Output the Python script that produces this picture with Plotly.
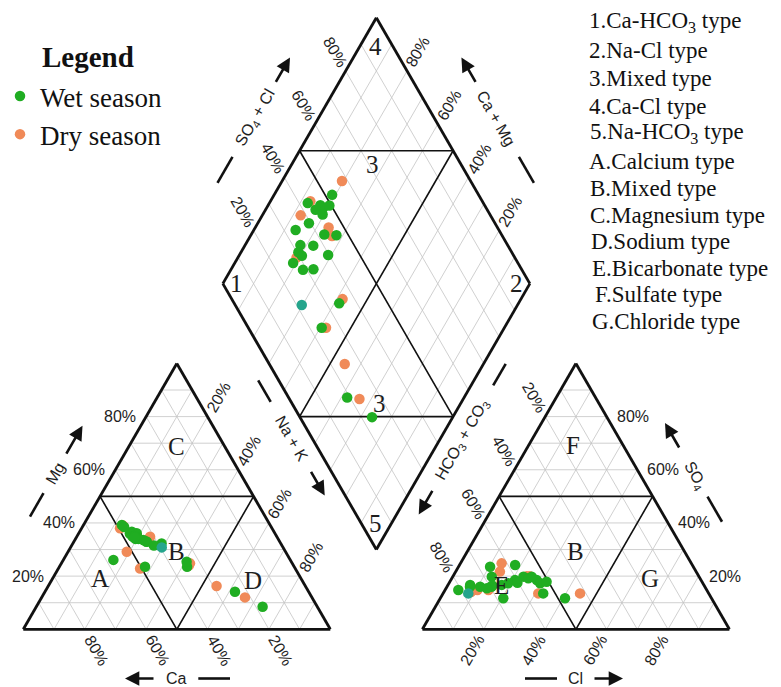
import numpy as np
import plotly.graph_objects as go

# ---------------- sample compositions (% of meq/L) ----------------
# Wet season: cations (Mg, Na+K; Ca = remainder) and anions (SO4, Cl; HCO3+CO3 = remainder)
wet_mg = [36.1, 39.2, 36.7, 34.8, 26.1, 34.0, 34.5, 36.0, 38.5, 32.9,
          23.5, 33.6, 35.0, 35.0, 34.0, 32.3, 34.5, 33.0, 31.5, 23.5,
          25.4, 14.1, 8.5]
wet_nak = [18.9, 12.5, 17.0, 18.4, 16.3, 19.5, 20.0, 16.7, 13.6, 23.8,
           27.9, 22.3, 18.0, 18.7, 20.5, 28.9, 19.0, 23.5, 26.8, 41.6,
           40.5, 61.9, 73.7]
wet_so4 = [11.7, 19.8, 18.5, 17.3, 19.2, 19.8, 17.9, 18.5, 23.5, 24.2,
           13.5, 17.3, 19.8, 16.0, 16.5, 17.5, 16.0, 15.4, 11.7, 16.7,
           16.7, 14.8, 16.0]
wet_cl = [40.6, 23.0, 28.0, 29.7, 24.9, 25.7, 31.5, 20.9, 10.3, 18.1,
          32.6, 19.3, 12.7, 14.5, 14.5, 22.2, 10.8, 13.3, 20.5, 17.5,
          7.2, 4.3, 7.5]

# Dry season
dry_mg = [35.0, 38.0, 22.9, 24.8, 24.0, 16.3, 12.0, 29.2, 34.8, 39.0]
dry_nak = [19.5, 12.5, 26.6, 41.9, 41.9, 54.8, 66.2, 19.1, 23.9, 13.0]
dry_so4 = [13.5, 24.8, 13.5, 21.7, 14.8, 15.0, 14.0, 14.8, 20.0, 20.0]
dry_cl = [44.6, 13.4, 31.0, 14.4, 10.5, 9.6, 8.8, 14.1, 25.0, 24.0]

# Sample recorded identically in both seasons
both_mg = [30.8]
both_nak = [29.7]
both_so4 = [13.5]
both_cl = [8.2]

tick_vals = [20, 40, 60, 80]

type_notes = [
    "1.Ca-HCO<sub>3</sub> type", "2.Na-Cl type", "3.Mixed type", "4.Ca-Cl type",
    "5.Na-HCO<sub>3</sub> type", "A.Calcium type", "B.Mixed type",
    "C.Magnesium type", "D.Sodium type", "E.Bicarbonate type",
    "F.Sulfate type", "G.Chloride type",
]

# ---------------- geometry ----------------
H = np.sqrt(3) / 2          # triangle height for unit side
GAP = 0.3                   # gap between the two triangles
AX0 = 1 + GAP               # x origin of anion triangle
BX, BY = 1 + GAP / 2, GAP / 2 * np.sqrt(3)   # bottom vertex of the diamond

W, HGT = 781, 687
S = 307.0                   # pixels per unit side
X0, Y0 = 23.3, 629.3        # pixel position of the cation triangle's lower-left corner


def P(px, py):
    """pixel position -> data coordinates"""
    return (px - X0) / S, (Y0 - py) / S


def cat_xy(mg, nak):
    return nak + mg / 2, mg * H


def an_xy(so4, cl):
    return AX0 + cl + so4 / 2, so4 * H


def dia_xy(c, s):
    return BX + 0.5 * (s - c), BY + H * (s + c)


def project(mg, nak, so4, cl):
    mg, nak, so4, cl = [np.asarray(v, float) / 100 for v in (mg, nak, so4, cl)]
    x1, y1 = cat_xy(mg, nak)
    x2, y2 = an_xy(so4, cl)
    x3, y3 = dia_xy(1 - nak, so4 + cl)
    return np.concatenate([x1, x2, x3]), np.concatenate([y1, y2, y3])


def seg_trace(segs, color, width):
    xs, ys = [], []
    for (a, b) in segs:
        xs += [a[0], b[0], None]
        ys += [a[1], b[1], None]
    return go.Scatter(x=xs, y=ys, mode="lines", line=dict(color=color, width=width),
                      hoverinfo="skip", showlegend=False)


grid, zones, frames = [], [], []
for ox in (0.0, AX0):
    for k in range(1, 10):
        f = k / 10
        grid.append(((ox + f / 2, f * H), (ox + 1 - f / 2, f * H)))
        grid.append(((ox + f, 0), (ox + f + (1 - f) / 2, (1 - f) * H)))
        grid.append(((ox + 1 - f, 0), (ox + (1 - f) / 2, (1 - f) * H)))
    zones.append(((ox + 0.25, 0.5 * H), (ox + 0.75, 0.5 * H)))
    zones.append(((ox + 0.5, 0), (ox + 0.25, 0.5 * H)))
    zones.append(((ox + 0.5, 0), (ox + 0.75, 0.5 * H)))
    frames.append(((ox, 0), (ox + 1, 0)))
    frames.append(((ox + 1, 0), (ox + 0.5, H)))
    frames.append(((ox + 0.5, H), (ox, 0)))

for k in range(1, 10):
    f = k / 10
    grid.append((dia_xy(0, f), dia_xy(1, f)))
    grid.append((dia_xy(f, 0), dia_xy(f, 1)))
zones.append((dia_xy(0, 0.5), dia_xy(1, 0.5)))
zones.append((dia_xy(0.5, 0), dia_xy(0.5, 1)))
zones.append((dia_xy(0.5, 0), dia_xy(0, 0.5)))
zones.append((dia_xy(1, 0.5), dia_xy(0.5, 1)))
corners = [dia_xy(0, 0), dia_xy(1, 0), dia_xy(1, 1), dia_xy(0, 1), dia_xy(0, 0)]
for a, b in zip(corners[:-1], corners[1:]):
    frames.append((a, b))

fig = go.Figure()
fig.add_trace(seg_trace(grid, "#c4c4c4", 0.8))
fig.add_trace(seg_trace(zones, "#111111", 1.6))
fig.add_trace(seg_trace(frames, "#111111", 2.8))

GREEN, ORANGE, TEAL = "#20ad22", "#f08a58", "#25a58c"
mk = dict(size=10.5, line=dict(width=0))
x, y = project(dry_mg, dry_nak, dry_so4, dry_cl)
fig.add_trace(go.Scatter(x=x, y=y, mode="markers", name="Dry season", legendgroup="dry",
                         legendrank=2, marker=dict(color=ORANGE, **mk)))
x, y = project(wet_mg, wet_nak, wet_so4, wet_cl)
fig.add_trace(go.Scatter(x=x, y=y, mode="markers", name="Wet season", legendgroup="wet",
                         legendrank=1, marker=dict(color=GREEN, **mk)))
x, y = project(both_mg, both_nak, both_so4, both_cl)
fig.add_trace(go.Scatter(x=x, y=y, mode="markers", name="Both seasons", showlegend=False,
                         marker=dict(color=TEAL, **mk)))

ann = []
SANS = "Liberation Sans"
SERIF = "Liberation Serif"
TXT = "#1e1e1e"


def label(xy, text, angle=0, size=16, family=SANS, xanchor="center", **kw):
    ann.append(dict(x=xy[0], y=xy[1], text=text, showarrow=False, textangle=angle,
                    xanchor=xanchor, yanchor="middle",
                    font=dict(family=family, size=size, color=TXT), **kw))


def off(pt, ux, uy, d):
    """shift a data point by d pixels along a unit direction given in data axes"""
    return pt[0] + ux * d / S, pt[1] + uy * d / S


# percentage ticks
for v in tick_vals:
    f = v / 100
    # cation triangle
    label(off((0 + f / 2, f * H), -1, 0, 8), f"{v}%", xanchor="right")           # Mg
    label(off((0.5 + f / 2, (1 - f) * H), 0.5, H, 22), f"{v}%", angle=-60)         # Na+K
    label(off((1 - f, 0), 0.5, -H, 24), f"{v}%", angle=60)                         # Ca
    # anion triangle
    label(off((AX0 + 1 - f / 2, f * H), 1, 0, 8), f"{v}%", xanchor="left")        # SO4
    label(off((AX0 + f, 0), -0.5, -H, 24), f"{v}%", angle=-60)                    # Cl
    label(off((AX0 + f / 2, f * H), -0.5, H, 22), f"{100 - v}%", angle=60)        # HCO3+CO3
    # diamond
    label(off(dia_xy(1, f), -0.5, H, 22), f"{v}%", angle=60)                       # SO4+Cl
    label(off(dia_xy(f, 1), 0.5, H, 22), f"{v}%", angle=-60)                       # Ca+Mg

# axis titles with leading dash and trailing arrow (pixel layout)
titles = [
    ("Mg", (55, 473.3), (0.5, -0.866), -60, (23, 50), (21, 55)),
    ("Ca", (176.7, 678.5), (-1, 0), 0, (21.6, 53.3), (21.7, 51.7)),
    ("Na + K", (291.7, 438.3), (0.5, 0.866), 60, (42, 67), (37, 66)),
    ("HCO<sub>3</sub> + CO<sub>3</sub>", (461.7, 440), (-0.5, 0.866), -60, (63, 88), (57, 86)),
    ("SO<sub>4</sub>", (695, 475), (-0.5, -0.866), 60, (25, 54), (30, 60)),
    ("Cl", (575, 678.5), (1, 0), 0, (18, 50), (18, 48)),
    ("SO<sub>4</sub> + Cl", (255, 118), (0.5, -0.866), -60, (45, 75), (40, 70)),
    ("Ca + Mg", (496.4, 118), (-0.5, -0.866), 60, (45, 75), (40, 70)),
]
shapes = []
for text, (cx, cy), (ux, uy), ang, (d0, d1), (a0, a1) in titles:
    label(P(cx, cy), text, angle=ang, size=16)
    p0, p1 = P(cx - ux * d0, cy - uy * d0), P(cx - ux * d1, cy - uy * d1)
    shapes.append(dict(type="line", x0=p0[0], y0=p0[1], x1=p1[0], y1=p1[1],
                       line=dict(color="#111111", width=2.6)))
    t, h = P(cx + ux * a0, cy + uy * a0), P(cx + ux * a1, cy + uy * a1)
    ann.append(dict(x=h[0], y=h[1], ax=t[0], ay=t[1], axref="x", ayref="y", xref="x", yref="y",
                    text="", showarrow=True, arrowhead=2, arrowsize=1.1, arrowwidth=2.6,
                    arrowcolor="#111111"))

# zone letters and numbers
zones_txt = [
    ("A", (100, 578.3)), ("B", (176.7, 551.7)), ("C", (176.7, 446.7)), ("D", (253.3, 580)),
    ("E", (501.7, 585)), ("F", (573.3, 445)), ("B", (575, 551.7)), ("G", (650, 578.3)),
    ("4", (375, 46.7)), ("3", (372.3, 164)), ("1", (236.7, 283.3)), ("2", (516.7, 283.3)),
    ("3", (379, 403)), ("5", (375, 523)),
]
for t, (px, py) in zones_txt:
    label(P(px, py), t, size=25, family=SERIF)

# type notes list
note_x = [586.5, 586.5, 586.5, 586.5, 588, 586.5, 588, 588, 589, 590, 592.5, 590]
note_y = [21.7, 50, 78.3, 106.7, 133.3, 161.7, 188.3, 215, 241.7, 268.3, 295, 321.7]
for t, nx, ny in zip(type_notes, note_x, note_y):
    ann.append(dict(x=nx / W, y=1 - ny / HGT, xref="paper", yref="paper", text=t,
                    showarrow=False, xanchor="left", yanchor="middle",
                    font=dict(family=SERIF, size=23, color="#111111")))

# legend heading
ann.append(dict(x=40 / W, y=1 - 57 / HGT, xref="paper", yref="paper", text="<b>Legend</b>",
                showarrow=False, xanchor="left", yanchor="middle",
                font=dict(family=SERIF, size=29, color="#111111")))

xr = [P(0, 0)[0], P(W, 0)[0]]
yr = [P(0, HGT)[1], P(0, 0)[1]]
fig.update_layout(
    width=W, height=HGT,
    margin=dict(l=0, r=0, t=0, b=0),
    paper_bgcolor="white", plot_bgcolor="white",
    xaxis=dict(range=xr, visible=False, fixedrange=True),
    yaxis=dict(range=yr, visible=False, fixedrange=True),
    annotations=ann, shapes=shapes,
    showlegend=True,
    legend=dict(x=0.0, y=1 - 72 / HGT, xanchor="left", yanchor="top",
                font=dict(family=SERIF, size=27, color="#111111"),
                bgcolor="rgba(0,0,0,0)", tracegroupgap=0, itemsizing="trace"),
)

fig.write_html("out.html")
